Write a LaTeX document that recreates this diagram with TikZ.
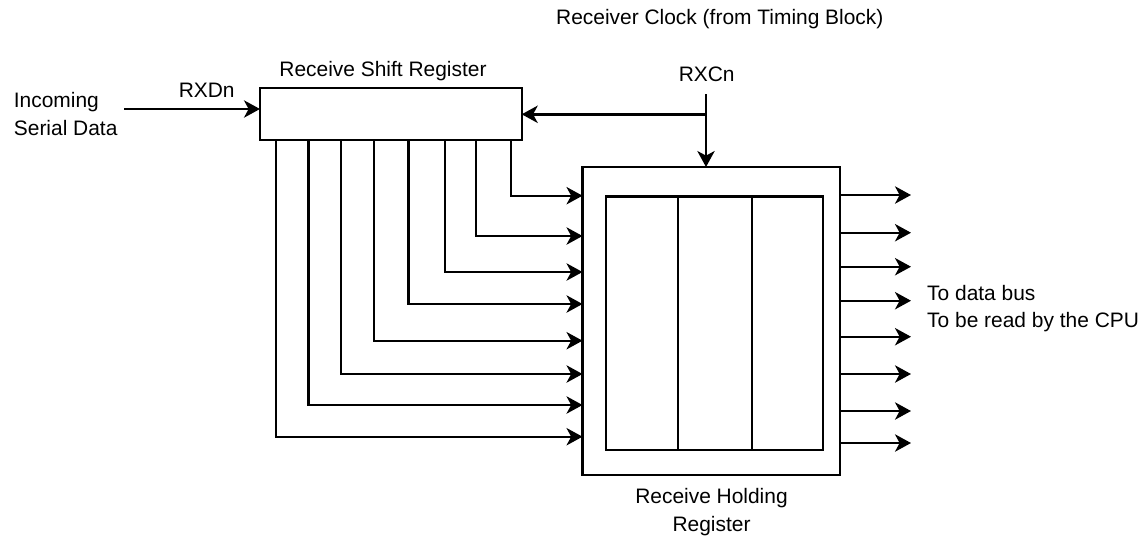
\documentclass[tikz,border=0pt]{standalone}
\usepackage{fontspec}
\setmainfont{Liberation Sans}
\usetikzlibrary{arrows.meta}
\begin{document}
\begin{tikzpicture}[x=0.75pt,y=-0.75pt,
  line width=1.8pt,
  arr/.style={-{Stealth[length=12pt,width=13pt,inset=3.5pt]}},
  lbl/.style={font=\fontsize{15.7pt}{20.5pt}\selectfont, inner sep=0pt},
  box/.style={draw, rectangle, inner sep=0pt, outer sep=0pt}]
\useasboundingbox (0,0) rectangle (1144,540);
% blocks
\node[box, minimum width=196.3pt, minimum height=39.2pt] (sr) at (390.85,113.85) {};
\node[box, minimum width=193.1pt, minimum height=231pt] (hr) at (711.25,321) {};
\node[box, minimum width=162.75pt, minimum height=190pt] (inr) at (714.2,323.35) {};
\draw (inr.north -| 677.7,0) -- (inr.south -| 677.7,0);
\draw (inr.north -| 751.7,0) -- (inr.south -| 751.7,0);
% labels
\node[lbl, anchor=west, align=left] (inc) at (12.7,114) {Incoming\\Serial Data};
\node[lbl] (rxd) at (206.7,90.7) {RXDn};
\node[lbl] (srl) at (383,70.7) {Receive Shift Register};
\node[lbl, anchor=west] (rcl) at (555,19.3) {Receiver Clock (from Timing Block)};
\node[lbl] (rxc) at (706.7,74) {RXCn};
\node[lbl, anchor=west, align=left] (bus) at (926,308.3) {To data bus\\To be read by the CPU};
\node[lbl, align=center] (hrl) at (711.5,512) {Receive Holding\\Register};
% serial input
\coordinate (inA) at (124,109);
\draw[arr] (inA) -- (sr.west |- inA);
% clock
\coordinate (clk) at (706,94);
\coordinate (clkb) at (706,114.3);
\draw[arr] (clk) -- (clk |- hr.north);
\draw[arr] (clkb) -- (sr.east |- clkb);
% parallel transfer
\foreach \x/\y in {510.7/195.7, 476/236, 445/272, 408.3/304, 374/340.7, 340.7/374, 308.3/405, 275.7/436.7}
  \draw[arr] (sr.south -| \x,0) |- (hr.west |- 0,\y);
% outputs
\foreach \y in {195,232.7,266.7,300.7,336.7,374,411,443}
  \draw[arr] (hr.east |- 0,\y) -- (911,\y);
\end{tikzpicture}
\end{document}
